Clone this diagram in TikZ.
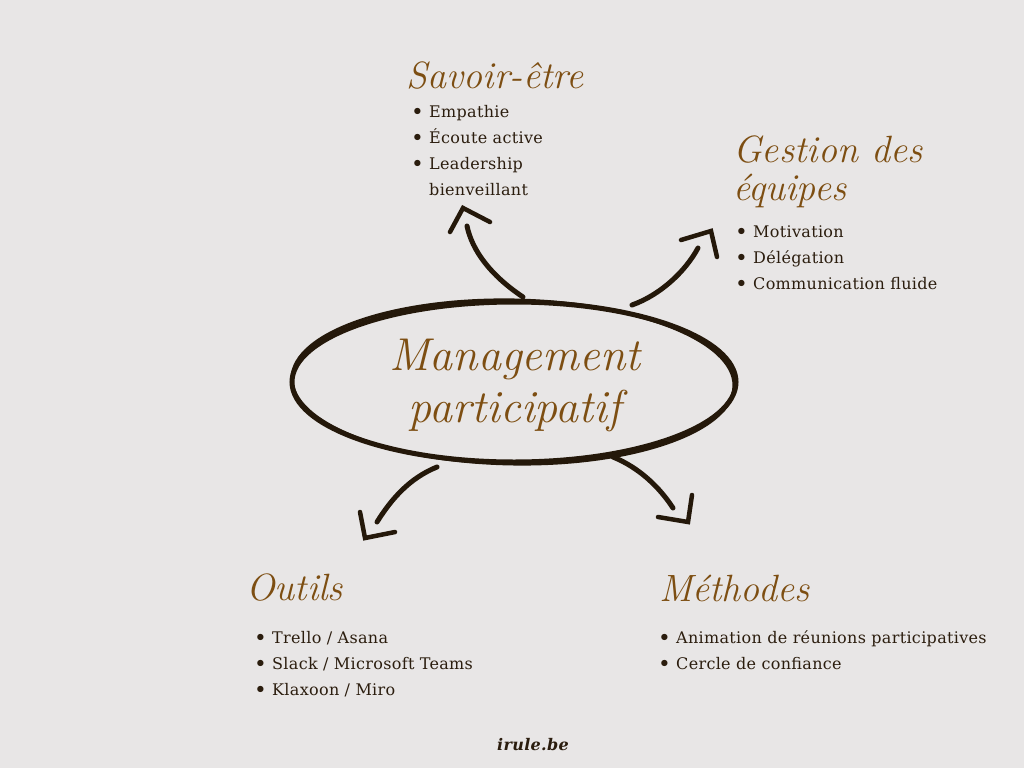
\documentclass[tikz,border=0pt]{standalone}
\usepackage{fontspec}
\setmainfont[LetterSpace=2]{DejaVu Serif}
\newfontfamily\hndfont{Latin Modern Roman}
\definecolor{bgc}{HTML}{E8E6E6}
\definecolor{ink}{HTML}{24180A}
\definecolor{titlebrown}{HTML}{7D4E12}
\definecolor{txt}{HTML}{2B1D0E}
\newcommand\blt{\makebox[18pt][l]{\raisebox{-2.5pt}{\scalebox{1.35}{•}}}}
\tikzset{
  stroke/.style={draw=ink, line width=5pt, line cap=round, line join=round},
  head/.style={draw=ink, line width=4.5pt, line cap=round, line join=miter},
  ttl/.style={text=titlebrown, font=\hndfont\itshape\fontsize{38}{38}\selectfont, inner sep=0pt, align=left},
  lst/.style={text=txt, font=\fontsize{16}{26}\selectfont, inner sep=0pt, align=left},
}
\begin{document}
\begin{tikzpicture}[x=1pt,y=-1pt]
\fill[bgc] (0,0) rectangle (1024,768);
\useasboundingbox (0,0) rectangle (1024,768);

% central ellipse
\node[draw=none, minimum width=448pt, minimum height=164pt, inner sep=0pt] (E) at (514,382) {};
\draw[ink, line width=5pt] (514,382) ellipse [x radius=222, y radius=80];
\draw[ink, line width=3pt, rotate around={-1:(514,382)}] (513,382) ellipse [x radius=221, y radius=82];
\node[text=titlebrown, font=\hndfont\itshape\fontsize{46}{52}\selectfont, align=center, inner sep=0pt] (T) at (515,385) {Management\\participatif};

% connector endpoints
\coordinate (a1) at (523,297);
\coordinate (a1e) at (467,226);
\coordinate (a1t) at (463,208);
\coordinate (a2) at (632,305);
\coordinate (a2e) at (698,248);
\coordinate (a2t) at (711,231);
\coordinate (a3) at (437,467);
\coordinate (a3e) at (377,522);
\coordinate (a3t) at (365,538);
\coordinate (a4) at (613,457);
\coordinate (a4e) at (673,508);
\coordinate (a4t) at (688,522);

\draw[stroke] (a1) .. controls (490,275) and (472,250) .. (a1e);
\draw[head] (450,232) -- (a1t) -- (490,222);
\draw[stroke] (a2) .. controls (660,295) and (685,272) .. (a2e);
\draw[head] (681,240) -- (a2t) -- (717,257);
\draw[stroke] (a3) .. controls (410,478) and (392,498) .. (a3e);
\draw[head] (360,512) -- (a3t) -- (395,532);
\draw[stroke] (a4) .. controls (640,468) and (660,488) .. (a4e);
\draw[head] (692,495) -- (a4t) -- (658,517);

% titles
\node[ttl, anchor=center] (S) at (495,76) {Savoir-être};
\node[ttl, anchor=west] (G) at (733,172) {Gestion des\\équipes};
\node[ttl, anchor=west] (O) at (246,588) {Outils};
\node[ttl, anchor=west] (M) at (659,588) {Méthodes};

% lists (base anchor = baseline of last line)
\node[lst, anchor=base west] (L1) at (411,195) {\blt Empathie\\\blt Écoute active\\\blt Leadership\\\hphantom{\blt}bienveillant};
\node[lst, anchor=base west] (L2) at (735,289) {\blt Motivation\\\blt Délégation\\\blt Communication fluide};
\node[lst, anchor=base west] (L3) at (254,695) {\blt Trello / Asana\\\blt Slack / Microsoft Teams\\\blt Klaxoon / Miro};
\node[lst, anchor=base west] (L4) at (658,669) {\blt Animation de réunions participatives\\\blt Cercle de confiance};

\node[text=txt, font=\bfseries\itshape\fontsize{16}{18}\selectfont, inner sep=0pt, anchor=base] (W) at (533,750) {irule.be};
\end{tikzpicture}
\end{document}
